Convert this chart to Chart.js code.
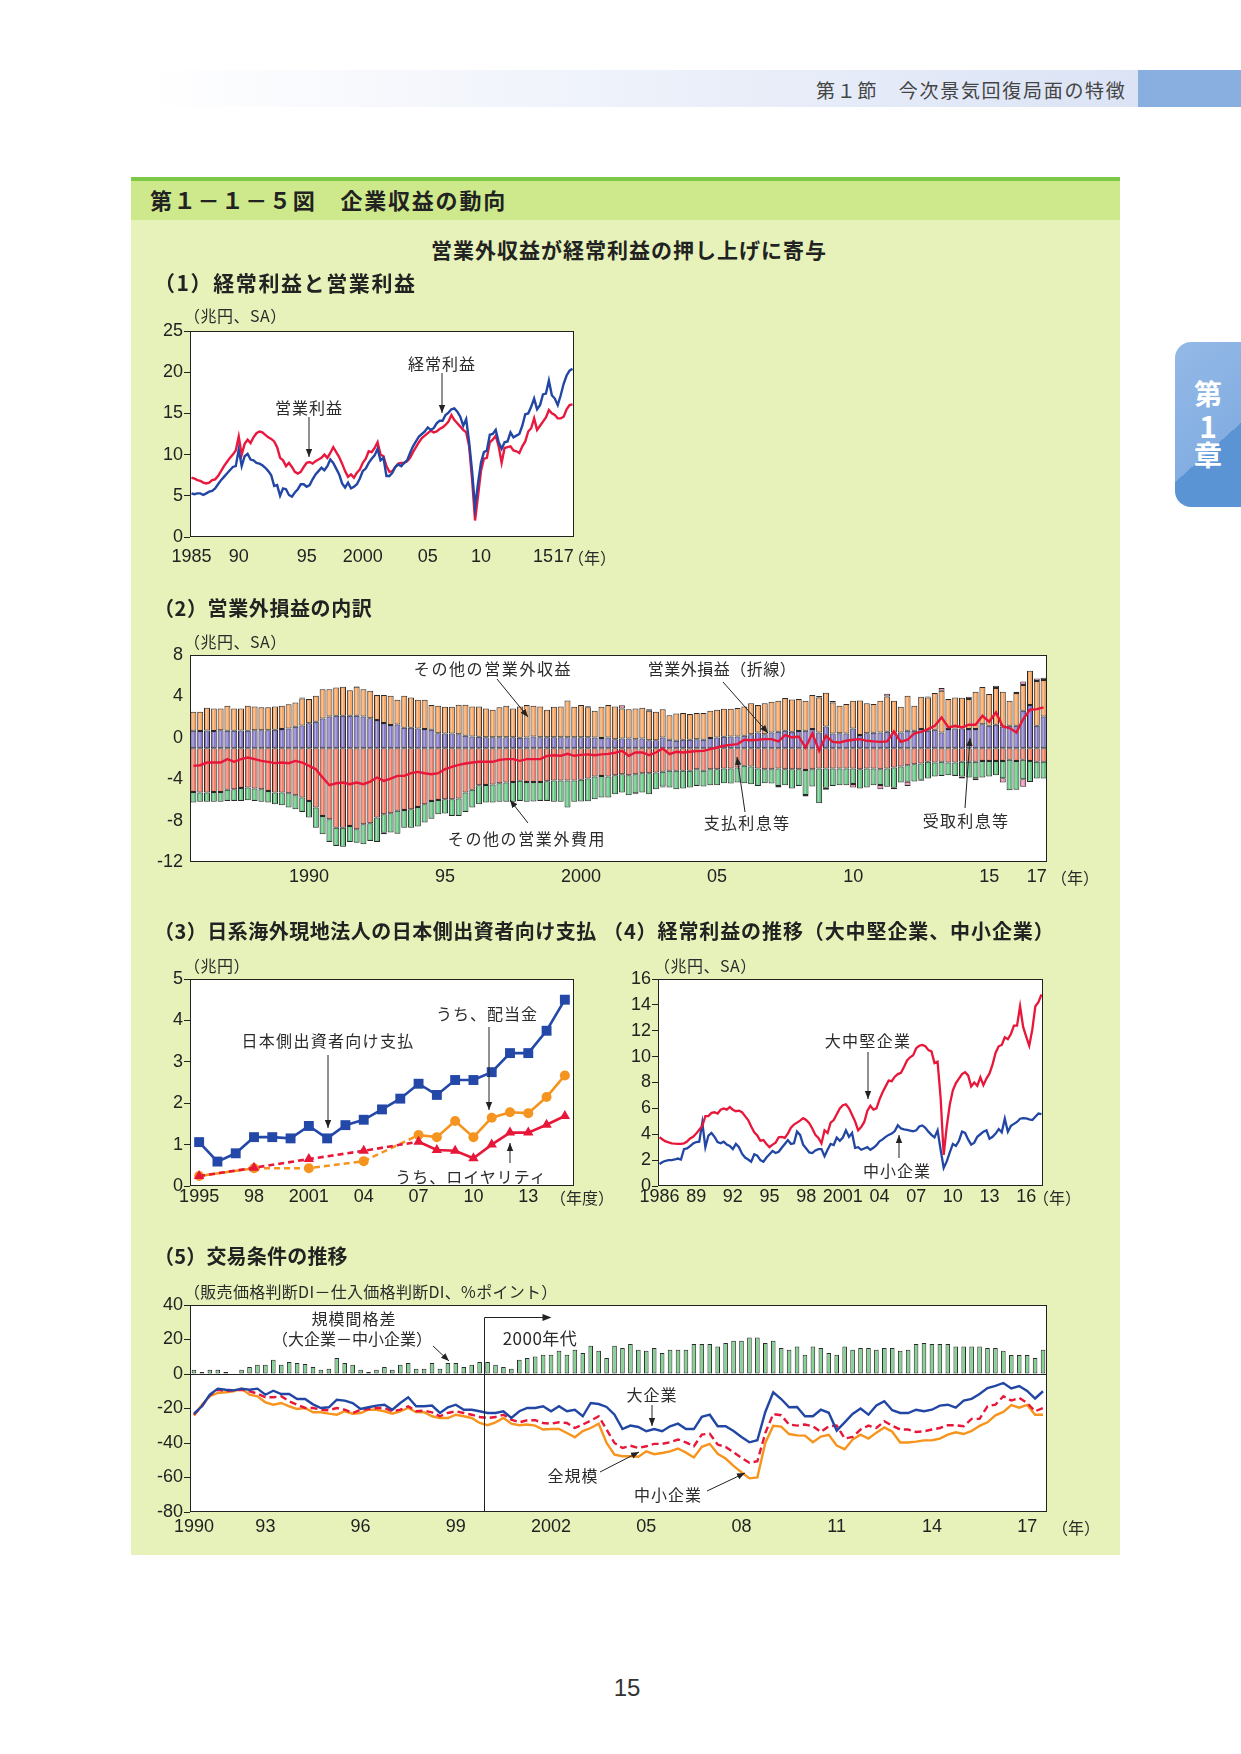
<!DOCTYPE html>
<html lang="ja"><head><meta charset="utf-8">
<script src="https://cdn.jsdelivr.net/npm/chart.js@4.4.0/dist/chart.umd.min.js"></script>
<style>
html,body{margin:0;padding:0;background:#fff;}
#page{position:relative;width:1241px;height:1754px;overflow:hidden;font-family:'Noto Sans CJK JP',sans-serif;color:#333;}
.abs{position:absolute;}
.tx{position:absolute;white-space:nowrap;line-height:1;z-index:2;color:#2b2b2b;}
canvas{position:absolute;z-index:1;}
svg{position:absolute;left:0;top:0;z-index:3;}
</style></head>
<body><div id="page">
<div class="abs" style="left:141px;top:70px;width:997px;height:37px;background:linear-gradient(to right,#ffffff,#dbe3f5);"></div>
<div class="abs" style="left:1138px;top:70px;width:103px;height:37px;background:#88afe0;"></div>
<div class="abs" style="left:1175px;top:342px;width:66px;height:165px;border-radius:16px 0 0 16px;background:linear-gradient(138deg,#93b9e6 0%,#84aee2 62.5%,#5a94d5 62.5%,#5a94d5 100%);"></div>
<div class="abs" style="left:131px;top:177px;width:989px;height:1378px;background:#e6f2b9;"></div>
<div class="abs" style="left:131px;top:177px;width:989px;height:4px;background:#7dc847;"></div>
<div class="abs" style="left:131px;top:181px;width:989px;height:39px;background:#cee98b;"></div>
<svg width="1241" height="1754">
<defs><marker id="ah" viewBox="0 0 10 10" refX="10" refY="5" markerWidth="8" markerHeight="8" markerUnits="userSpaceOnUse" orient="auto"><path d="M0,1 L10,5 L0,9 z" fill="#222"/></marker></defs>
<g stroke="#222" stroke-width="1" fill="none" marker-end="url(#ah)">
<line x1="442" y1="373" x2="442" y2="413"/>
<line x1="309" y1="417" x2="309" y2="457"/>
<line x1="497" y1="679" x2="528" y2="717"/>
<line x1="723" y1="682" x2="768" y2="733"/>
<line x1="528" y1="823" x2="510" y2="800"/>
<line x1="745" y1="812" x2="737" y2="757"/>
<line x1="965" y1="808" x2="970" y2="738"/>
<line x1="328" y1="1055" x2="328" y2="1128"/>
<line x1="489" y1="1027" x2="489" y2="1110"/>
<line x1="510" y1="1163" x2="510" y2="1143"/>
<line x1="868" y1="1052" x2="868" y2="1099"/>
<line x1="899" y1="1158" x2="899" y2="1135"/>
<line x1="433" y1="1346" x2="449" y2="1361"/>
<line x1="652" y1="1405" x2="652" y2="1426"/>
<line x1="600" y1="1472" x2="639" y2="1452"/>
<line x1="707" y1="1491" x2="745" y2="1473"/>
</g>
</svg>
</div>
<script>
// ---------------- data ----------------
// (1) 経常利益 / 営業利益, quarterly 1985Q1-2017Q2 (兆円, SA)
const c1Ordinary = [5.3,5.2,5.3,5.3,5.1,5.3,5.5,5.6,5.9,6.4, 6.9,7.3,7.7,8.1,8.5,8.6,10.6,8.6,9.8,10.1, 9.4,9.3,9.0,8.9,8.7,8.4,8.0,7.5,6.2,6.3, 5.0,5.9,5.8,5.1,4.9,5.4,5.8,6.4,6.4,6.1, 6.3,7.0,7.6,8.0,8.4,8.1,8.6,9.4,9.0,8.3, 7.6,6.5,6.0,6.6,5.9,6.1,6.4,7.1,8.0,8.3, 9.0,9.5,9.9,10.7,9.3,9.6,7.4,7.4,7.8,8.5, 8.8,8.6,9.0,9.3,10.2,11.0,11.6,12.2,12.5,12.8, 13.3,13.0,13.2,13.8,14.1,14.1,14.8,15.1,15.5,15.6, 15.2,14.6,13.5,14.3,11.5,8.0,3.6,6.5,9.0,10.3, 10.5,12.4,12.5,13.0,11.5,10.7,11.5,11.6,12.7,12.1, 12.3,12.5,13.5,14.9,15.0,15.8,16.8,15.5,16.0,17.3, 17.4,19.0,17.2,16.8,16.0,17.2,18.6,19.6,20.2,20.4];
const c1Operating = [7.2,7.1,6.9,6.8,6.6,6.5,6.6,6.9,7.0,7.4, 8.0,8.6,9.1,9.6,10.0,10.5,12.2,10.0,11.3,11.8, 11.4,12.1,12.6,12.8,12.7,12.4,12.1,11.9,11.6,10.9, 9.6,9.3,8.6,9.0,8.5,7.9,7.7,7.9,8.5,9.0, 9.1,8.9,9.2,9.4,9.6,10.0,9.6,10.2,10.9,10.3, 9.7,8.9,8.0,7.3,7.6,7.2,7.8,8.2,9.0,9.5, 10.4,10.3,10.8,11.5,10.0,9.8,8.6,7.9,8.0,8.5, 8.9,9.0,9.0,9.2,9.6,10.3,10.9,11.5,12.0,12.3, 12.6,12.9,12.7,12.8,13.1,13.3,13.6,14.0,14.8,14.2, 13.8,13.4,13.0,12.7,11.0,7.0,2.0,5.0,8.0,9.5, 9.6,11.5,11.8,12.3,11.0,9.0,10.8,10.9,11.0,10.5, 10.4,10.2,11.0,11.6,12.8,13.2,14.4,13.0,13.5,14.0, 14.5,15.4,15.0,14.8,14.4,14.4,14.6,15.5,16.0,16.1];
const c1TickIdx = [0,16,39,58,80,98,119,126];
const c1TickText = ['1985','90','95','2000','05','10','15','17'];

// (2) 営業外損益の内訳, quarterly 1985Q4-2017Q1 (兆円, SA)
const c2InterestReceived = [1.68,1.65,1.70,1.65,1.72,1.68,1.68,1.70,1.68,1.74, 1.74,1.74,1.77,1.84,1.90,2.06,2.20,2.40,2.55,2.87, 3.06,3.13,3.13,3.13,3.13,3.06,2.90,2.71,2.42,2.23, 2.29,1.97,1.97,1.90,1.84,1.77,1.45,1.42,1.42,1.35, 1.19,1.13,1.10,1.06,1.06,1.06,1.06,1.06,1.00,1.03, 1.13,1.06,1.06,1.06,1.06,1.06,1.06,1.06,1.06,1.03, 0.97,1.03,0.87,0.94,0.94,0.87,0.94,0.77,0.77,1.03, 0.81,0.71,0.81,0.81,0.87,0.81,0.97,1.03,1.10,1.13, 1.13,1.19,1.35,1.52,1.35,1.52,1.58,1.68,1.58,1.65, 1.68,1.84,1.52,2.10,1.42,1.45,1.42,1.90,1.26,1.45, 1.48,1.52,1.58,1.52,1.52,1.68,1.68,1.84,1.68,1.77, 1.52,1.84,1.90,1.90,1.84,1.84,2.32,2.16,2.26,2.10, 2.16,2.16,3.61,4.16,2.16,3.06];
const c2OtherIncome = [1.84,1.87,2.20,2.19,2.12,2.42,2.16,2.14,2.42,2.29, 2.20,2.20,2.26,2.26,2.33,2.36,2.60,2.34,2.51,2.83, 2.64,2.74,2.81,2.47,2.81,2.64,2.65,2.42,2.71,2.83, 2.39,3.09,2.93,2.78,2.84,2.39,2.65,2.58,2.58,2.84, 3.00,2.90,2.93,2.78,2.65,2.88,3.04,2.78,3.03,3.13, 2.97,2.97,2.65,2.94,2.97,3.54,2.94,3.10,2.88,2.58, 3.03,3.13,3.16,2.90,2.83,2.97,2.96,2.84,2.75,2.74, 2.38,2.64,2.58,2.48,2.52,2.58,2.64,2.68,2.71,2.68, 2.74,2.84,3.00,2.64,3.00,2.96,3.00,3.16,3.13,3.09, 2.90,3.29,3.38,3.25,3.00,2.65,2.84,2.68,3.35,2.90, 2.78,3.06,3.42,3.06,2.48,3.38,2.42,3.13,3.22,3.55, 4.03,2.90,3.00,2.97,2.90,3.61,3.58,3.07,3.55,3.35, 2.42,3.16,2.49,3.32,4.32,3.52];
const c2OtherPlus = [0,0,0,0,0,0,0,0,0,0, 0,0,0,0,0,0,0.1,0,0,0, 0,0,0,0,0.05,0,0,0,0,0, 0,0,0,0,0,0,0,0,0,0, 0,0,0,0,0,0,0,0,0,0, 0,0,0,0,0,0,0,0,0.1,0, 0,0,0,0.3,0,0,0,0.15,0,0, 0,0,0,0,0,0,0,0,0,0, 0,0,0,0,0,0,0,0,0,0, 0,0,0.15,0,0.13,0,0,0,0,0, 0,0,0.25,0,0,0,0,0,0.1,0, 0.25,0,0,0,0.23,0,0,0,0.23,0, 0,0.13,0.35,0,0.26,0.23];
const c2InterestPaid = [-4.23,-4.29,-4.29,-4.23,-4.23,-4.03,-3.97,-3.84,-3.81,-3.90, -3.97,-4.13,-4.29,-4.29,-4.35,-4.55,-4.77,-5.10,-5.74,-6.55, -6.87,-7.68,-7.68,-7.52,-7.84,-7.35,-7.26,-6.71,-6.39,-6.29, -6.06,-5.97,-5.90,-5.68,-5.42,-5.10,-5.00,-4.94,-4.94,-4.87, -4.29,-4.03,-3.58,-3.55,-3.52,-3.39,-3.32,-3.26,-3.16,-3.26, -3.26,-3.26,-3.19,-3.13,-3.13,-3.13,-3.13,-3.06,-2.94,-2.74, -2.68,-2.74,-2.61,-2.52,-2.61,-2.52,-2.42,-2.42,-2.35,-2.29, -2.19,-2.19,-2.19,-2.19,-2.03,-2.19,-2.03,-2.03,-1.97,-1.97, -1.87,-1.71,-1.77,-1.97,-2.03,-2.03,-1.97,-2.03,-2.03,-2.03, -2.10,-2.03,-1.97,-1.97,-1.97,-1.97,-1.97,-1.97,-2.03,-1.97, -1.97,-2.03,-1.97,-1.87,-1.77,-1.65,-1.55,-1.48,-1.32,-1.39, -1.32,-1.39,-1.39,-1.32,-1.32,-1.32,-1.23,-1.23,-1.23,-1.23, -1.13,-1.23,-1.13,-1.23,-1.32,-1.32];
const c2OtherExpense = [-1.03,-0.90,-0.90,-0.96,-0.96,-1.07,-1.13,-1.26,-1.22,-1.20, -1.22,-1.13,-1.13,-1.23,-1.39,-1.35,-1.39,-1.61,-1.94,-1.77, -2.19,-1.77,-1.84,-1.54,-1.29,-1.94,-1.71,-2.35,-1.78,-1.87, -2.20,-1.71,-1.78,-1.90,-1.77,-1.71,-1.39,-1.38,-1.61,-1.68, -1.87,-1.71,-1.84,-1.71,-1.74,-1.80,-1.87,-1.93,-1.94,-1.93, -1.90,-1.84,-1.91,-2.06,-2.06,-2.61,-2.06,-2.10,-2.19,-2.20, -2.09,-2.03,-1.84,-1.77,-1.94,-1.83,-1.87,-2.03,-1.62,-1.42, -1.62,-1.78,-1.71,-1.62,-1.62,-1.52,-1.55,-1.55,-1.42,-1.45, -1.45,-1.68,-1.71,-1.68,-1.36,-1.39,-1.69,-1.55,-1.87,-1.62, -2.43,-1.68,-3.35,-1.86,-1.68,-1.61,-1.61,-1.49,-1.87,-1.84, -1.61,-1.54,-1.77,-1.95,-1.55,-1.60,-1.68,-1.58,-1.62,-1.35, -1.36,-1.22,-1.29,-1.42,-1.52,-1.58,-1.61,-1.51,-1.38,-1.67, -2.93,-2.80,-1.87,-2.03,-1.62,-1.62];
const c2OtherMinus = [0,0,0,0,0,0,0,0,0,0, 0,0,0,0,0,0,0,0,0,0, 0,0,0,0,0,0,0,0,-0.15,0, 0,0,0,0,0,0,0,0,0,0, 0,0,0,0,0,0,0,0,0,0, 0,0,0,0,0,0,0,0,0,0, 0,0,0,0,0,-0.1,0,0,0,-0.1, 0,0,0,0,0,0,0,0,0,0, 0,0,0,0,0,0,-0.15,0,0,0, -0.15,0,0,-0.2,0,0,0,-0.35,0,0, 0,-0.4,0,-0.15,0,-0.4,0,-0.1,0,0, 0,0,0,-0.2,0,-0.2,0,0,0,-0.42, 0,0,-0.74,0,0,0];
const c2Net = [-1.71,-1.65,-1.39,-1.39,-1.39,-1.06,-1.32,-1.06,-0.90,-1.06, -1.23,-1.32,-1.45,-1.39,-1.45,-1.23,-1.39,-1.71,-2.03,-2.84, -3.58,-3.39,-3.32,-3.48,-3.32,-3.48,-3.23,-2.84,-3.16,-2.94, -2.68,-2.68,-2.42,-2.29,-2.42,-2.52,-2.42,-2.03,-1.81,-1.61, -1.48,-1.39,-1.32,-1.32,-1.32,-1.13,-1.06,-1.06,-1.23,-1.06, -1.06,-1.06,-0.74,-0.68,-0.74,-0.55,-0.74,-0.65,-0.60,-0.68, -0.60,-0.55,-0.45,-0.26,-0.74,-0.42,-0.42,-0.68,-0.42,-0.03, -0.58,-0.35,-0.42,-0.35,-0.29,-0.26,-0.10,0.06,0.23,0.32, 0.39,0.81,0.77,0.81,0.87,0.87,0.65,1.26,1.03,1.13, 0.06,1.42,-0.26,1.19,0.61,0.55,0.71,0.81,0.87,0.71, 0.65,0.61,0.65,1.61,0.61,0.81,1.42,1.58,1.84,2.16, 2.97,2.00,2.16,2.00,2.26,2.26,3.13,2.55,3.45,2.10, 1.94,1.52,2.81,3.71,3.77,3.94];
const c2TickIdx = [17,37,57,77,97,117,124];
const c2TickText = ['1990','95','2000','05','10','15','17'];
const c2YLabels = [8,4,0,-4,-8,-12];
const c2AxisShift = 1.0; // in the original the bars' zero line sits one unit below the "0" label

// (3) 日系海外現地法人の日本側出資者向け支払 (兆円, 年度)
const c3Years = [1995,1996,1997,1998,1999,2000,2001,2002,2003,2004,2005,2006,2007,2008,2009,2010,2011,2012,2013,2014,2015];
const c3Total = [1.06,0.59,0.79,1.18,1.18,1.15,1.45,1.15,1.47,1.60,1.85,2.11,2.47,2.20,2.56,2.56,2.75,3.21,3.21,3.75,4.50];
const c3Dividend = [0.24,null,null,0.43,null,null,0.43,null,null,0.60,null,null,1.23,1.18,1.57,1.18,1.65,1.78,1.76,2.15,2.67];
const c3Royalty = [0.24,null,null,0.44,null,null,0.65,null,null,0.85,null,null,1.07,0.87,0.85,0.67,1.00,1.29,1.29,1.48,1.69];
const c3TickYears = [1995,1998,2001,2004,2007,2010,2013];
const c3TickText = ['1995','98','2001','04','07','10','13'];

// (4) 経常利益の推移, quarterly 1986Q1-2017Q2 (兆円, SA)
const c4Large = [3.77,3.6,3.45,3.37,3.3,3.27,3.25,3.26,3.3,3.43, 3.68,3.8,4.05,4.35,4.65,5.4,5.4,5.65,5.7,5.6, 5.9,6.0,5.9,6.1,5.9,5.78,5.82,5.7,5.4,5.1, 4.6,4.15,3.9,3.5,3.55,3.25,3.0,3.2,3.35,3.77, 3.8,3.72,4.05,4.5,4.75,4.9,5.05,5.24,5.1,4.85, 4.45,3.95,3.72,3.3,4.3,4.1,4.9,5.1,5.55,6.0, 6.25,6.32,6.0,5.5,5.0,4.3,4.55,4.95,5.8,6.2, 5.9,6.0,6.7,7.25,7.7,8.15,8.1,8.45,8.65,8.75, 9.2,9.7,9.95,10.1,10.65,10.84,10.9,10.8,10.5,10.4, 9.5,9.6,6.8,2.4,4.6,6.3,7.4,7.95,8.3,8.65, 8.8,8.55,7.7,8.0,7.75,8.4,7.8,8.3,8.7,9.4, 10.3,10.8,10.9,11.5,11.35,11.75,12.4,12.4,13.9,12.3, 11.55,10.85,12.1,13.9,14.2,14.8];
const c4Small = [1.7,1.85,1.95,2.0,2.0,2.05,2.12,2.05,2.84,2.9, 3.08,3.28,3.4,3.43,4.9,3.0,3.9,4.1,3.8,3.4, 3.3,3.43,3.2,3.1,2.85,3.25,3.0,2.5,2.2,2.05, 1.88,2.45,2.35,2.0,1.88,2.2,2.45,2.7,2.55,2.65, 2.95,3.25,3.55,3.25,3.3,4.2,3.95,3.2,2.9,2.6, 2.55,2.75,2.85,2.85,2.3,2.8,3.25,3.17,3.75,3.5, 3.75,4.3,3.8,4.1,2.95,3.0,2.8,2.9,3.0,2.8, 2.95,3.15,3.45,3.6,3.8,3.95,4.05,4.25,4.7,4.45, 4.38,4.33,4.28,4.22,4.3,4.6,4.68,4.5,4.2,3.95, 3.75,4.3,2.8,1.4,1.9,2.6,3.25,3.1,3.5,4.2, 4.1,3.6,3.2,3.35,3.8,4.0,4.2,4.3,3.65,3.8, 4.05,4.4,4.15,5.2,4.2,4.65,4.8,4.95,5.2,5.24, 5.22,5.15,5.1,5.35,5.6,5.55];
const c4TickIdx = [0,12,24,36,48,60,72,84,96,108,120];
const c4TickText = ['1986','89','92','95','98','2001','04','07','10','13','16'];

// (5) 交易条件の推移, quarterly 1990Q4-2017Q3 (%ポイント)
const c5Gap = [2.5,1.2,2.5,2.5,1.2,0,2.5,4.05,5.4,5.4, 8.3,5.4,7,6.4,5.8,4.05,2.5,3.1,9.3,6.4, 5.4,2.5,1.2,2.5,4.05,2.5,5.4,6.4,3.1,3.1, 6.4,3.1,6.4,6.4,4.05,5.4,7,7,5.4,4.05, 3.1,8.3,9.3,10.2,11.2,11.2,13.5,11.2,14.1,12.2, 16.4,13.5,9.3,16.4,15.1, 17.4,14.1,13.5,15.1,12.2,14.1,14.1,14.1,17.4,17.4, 17.4,16,18,19.3,19.3,21.2,21.2,18,19.3,15.1, 14.1,16,11.2,16,15.1,12.2,11.2,16,14.1,15.1, 15.1,14.1,15.1,15.1,13.5,14.1,17.4,18,17.4,17.4, 17.4,16,16,16,16,15.1,15.1,13.5,11,11, 11,9.3,14.1];
const c5Large = [-23,-18.7,-12,-8.5,-9.1,-9.5,-8.5,-9.1,-8.5,-12, -9.7,-11.6,-11.6,-14.5,-14.5,-17.6,-19.7,-19.3,-14.9,-15.4, -16.8,-20.3,-19.3,-18.3,-17.8,-20.7,-16.8,-13.5,-18.7,-18.7, -18.3,-22.6,-19.3,-17.8,-20.7,-20.7,-21.6,-22.6,-22.6,-21.6, -25.5,-21.6,-19.7,-19.7,-18.7,-21.6,-18.7,-21.6,-20.7,-24.5, -16.8,-17.4,-19.1,-23.6,-31.9, -29.9,-30.7,-33.2,-31.9,-33.2,-30.3,-28.8,-31.9,-31.9,-24.8, -23.6,-30.3,-30.3,-33,-36.5,-39.6,-38.4,-22,-10.6,-14.5, -19.3,-19.1,-24.5,-24.5,-20.7,-22.5,-32.8,-28,-23.2,-20, -23.6,-18.2,-15.8,-21,-22.6,-22.6,-20.7,-21.6,-20.7,-18.3, -17.8,-19.5,-15.4,-14.4,-11.6,-8.2,-6.9,-5.2,-8.4,-7, -9.8,-14.2,-10];
const c5Small = [-24.1,-17.8,-12.9,-11,-10.6,-10,-8.5,-12,-12.9,-16.4, -17.8,-16.8,-18.7,-20.3,-19.7,-22.2,-22.2,-23,-23.6,-21.6, -23,-22.6,-20.7,-20.7,-21.6,-23,-21.6,-19.7,-22,-22.2, -24.5,-25.5,-25.5,-23.6,-24.5,-25.5,-28.4,-29.7,-28,-25.5, -28.8,-29.7,-29.3,-29.9,-32.2,-31.9,-31.9,-34.2,-36.7,-33.1, -31.3,-28.8,-40,-46.7,-47.7, -47.7,-48,-44.8,-46.5,-45.8,-44.9,-43.2,-45.6,-48.4,-42.2, -40.5,-46.3,-49,-53.3,-57,-60.5,-60,-40,-30,-30.5, -34.8,-35.6,-35.7,-39.5,-36.3,-35.3,-41.5,-43.6,-38,-35.2, -37.4,-34,-31,-33.5,-39.7,-39.7,-39.2,-38.5,-38.4,-37.5, -35.2,-33.8,-34.8,-33,-30.1,-28,-24,-22,-18,-19.5, -17.9,-23.6,-23.6];
const c5All = [-23.6,-18.7,-12.4,-9.1,-10,-9.5,-9.1,-10,-11.4,-13.5, -13.5,-12.9,-15.8,-17.8,-19.7,-19.7,-20.7,-21,-19.7,-20.7, -22.6,-20.7,-20.3,-19.7,-19.7,-21.6,-20.7,-18.7,-21.6,-21.2, -22.2,-24.5,-22.6,-21.6,-22.6,-23.6,-24.9,-25.5,-24.9,-23.6, -26.4,-28,-26.8,-26.8,-28.4,-28.8,-28,-28.4,-31.3,-29.3, -27,-24.5,-32.2,-40,-42.9, -41.6,-42.9,-41.9,-40.5,-40.5,-39.6,-38,-39.6,-41.9,-35.1, -34.6,-40.9,-42.3,-45.4,-48.6,-51.5,-50.6,-34.2,-23.2,-23.9, -29.3,-29.9,-29.3,-30.3,-33.6,-30.3,-29.9,-37.4,-36.5,-32.2, -29.9,-31.3,-27.4,-30,-32.2,-32.2,-33.6,-33.2,-32.2,-31.3, -29.7,-29.7,-30.3,-26,-26,-18.7,-17.8,-12.9,-15.4,-13.9, -16.8,-21.6,-19.7];
const c5TickIdx = [0,9,21,33,45,57,69,81,93,105];
const c5TickText = ['1990','93','96','99','2002','05','08','11','14','17'];
const c5DividerIndex = 37; // 2000Q1
const c5DividerTop = 33;

// ---------------- helpers ----------------
function quarters(y0, q0, n){ const out=[]; let y=y0,q=q0; for(let i=0;i<n;i++){ out.push(y+'Q'+q); q++; if(q>4){q=1;y++;} } return out; }
const FAM = "'Liberation Sans', Arial, sans-serif";
const tickFont = {family: FAM, size: 18};
Chart.defaults.font.family = FAM;
Chart.defaults.color = '#222';
const page = document.getElementById('page');

function mkCanvas(L, T, R, B){
  const c = document.createElement('canvas');
  c.width = R-L+100; c.height = B-T+75;
  c.style.left = (L-60)+'px'; c.style.top = (T-40)+'px';
  c.style.width = c.width+'px'; c.style.height = c.height+'px';
  page.appendChild(c);
  return c;
}
function txt(s, x, y, opt={}){
  const d = document.createElement('div');
  d.className = 'tx';
  d.textContent = s;
  d.style.left = x+'px'; d.style.top = y+'px';
  d.style.fontSize = (opt.size||16)+'px';
  d.style.letterSpacing = (opt.ls===undefined?1:opt.ls)+'px';
  d.style.transform = opt.left ? 'translate(0,-50%)' : 'translate(-50%,-50%)';
  if (opt.bold) d.style.fontWeight = 'bold';
  if (opt.color) d.style.color = opt.color;
  if (opt.font) d.style.fontFamily = opt.font;
  page.appendChild(d);
}
const framePlugin = {
  id:'frame',
  beforeDraw(ch){ const {ctx, chartArea:a} = ch; ctx.save(); ctx.fillStyle='#fff'; ctx.fillRect(a.left,a.top,a.right-a.left,a.bottom-a.top); ctx.restore(); },
  afterDraw(ch){ const {ctx, chartArea:a} = ch; ctx.save(); ctx.strokeStyle='#222'; ctx.lineWidth=1; ctx.strokeRect(Math.round(a.left)+0.5,Math.round(a.top)+0.5,Math.round(a.right-a.left)-1,Math.round(a.bottom-a.top)-1); ctx.restore(); }
};
// light vertical highlight inside each bar segment (as in the printed chart)
const stripePlugin = {
  id:'stripe',
  afterDatasetDraw(ch, args){
    const meta = args.meta;
    if (meta.type !== 'bar') return;
    const ctx = ch.ctx;
    ctx.save();
    ctx.fillStyle = 'rgba(255,255,255,0.42)';
    meta.data.forEach(el => {
      if (el.skip || el.y == null || isNaN(el.y)) return;
      const top = Math.min(el.y, el.base) + 1.5, bot = Math.max(el.y, el.base) - 1.5;
      if (bot - top < 1) return;
      ctx.fillRect(el.x - el.width*0.18, top, Math.max(1.3, el.width*0.22), bot - top);
    });
    ctx.restore();
  }
};
function yAx(min, max, step, o={}){
  const ax = {
    min, max,
    ticks:{stepSize:step, font:tickFont, color:'#222', padding:(o.pad===undefined?1:o.pad)},
    grid:{display:o.marks!==false, drawOnChartArea:false, drawTicks:o.marks!==false, tickLength:6, color:'#222', lineWidth:1},
    border:{display:false},
    afterFit:s=>{ s.width = 60; }
  };
  if (o.stacked) ax.stacked = true;
  if (o.abt) ax.afterBuildTicks = o.abt;
  if (o.cb) ax.ticks.callback = o.cb;
  return ax;
}
function xCat(idx, text, pad, stacked){
  return {
    type:'category', offset:true, stacked:!!stacked,
    grid:{display:false, drawTicks:false}, border:{display:false},
    ticks:{autoSkip:false, maxRotation:0, minRotation:0, font:tickFont, color:'#222', padding:pad,
      callback:(v,i)=>{ const k = idx.indexOf(i); return k>=0 ? text[k] : ''; }},
    afterFit:s=>{ s.height = 35; }
  };
}
function opts(scales){
  return {responsive:false, animation:false, devicePixelRatio:1,
    layout:{padding:{top:40,right:40,left:0,bottom:0}},
    plugins:{legend:{display:false}, tooltip:{enabled:false}},
    scales};
}
const nz = a => a.map(v => v===0 ? null : v);

// ---------------- chart 1 ----------------
new Chart(mkCanvas(190,331,574,537), {
  type:'line',
  data:{labels:quarters(1985,1,c1Ordinary.length), datasets:[
    {data:c1Ordinary, borderColor:'#2146a4', borderWidth:2.4, pointRadius:0, tension:0},
    {data:c1Operating, borderColor:'#e8183e', borderWidth:2.4, pointRadius:0, tension:0}
  ]},
  options:opts({x:xCat(c1TickIdx,c1TickText,9), y:yAx(0,25,5)}),
  plugins:[framePlugin]
});

// ---------------- chart 2 ----------------
const barCommon = {borderColor:'#2a2a2a', borderWidth:1, borderSkipped:false, categoryPercentage:1, barPercentage:0.88, stack:'s', order:1};
new Chart(mkCanvas(190,655,1047,862), {
  type:'bar',
  data:{labels:quarters(1985,4,c2Net.length), datasets:[
    Object.assign({label:'受取利息等', data:c2InterestReceived, backgroundColor:'#8174c8'}, barCommon),
    Object.assign({label:'その他の営業外収益', data:c2OtherIncome, backgroundColor:'#f8a15a'}, barCommon),
    Object.assign({label:'その他', data:nz(c2OtherPlus), backgroundColor:'#f48db3'}, barCommon),
    Object.assign({label:'支払利息等', data:c2InterestPaid, backgroundColor:'#f4785f'}, barCommon),
    Object.assign({label:'その他の営業外費用', data:c2OtherExpense, backgroundColor:'#5fc47e'}, barCommon),
    Object.assign({label:'その他', data:nz(c2OtherMinus), backgroundColor:'#f48db3'}, barCommon),
    {type:'line', label:'営業外損益', data:c2Net, borderColor:'#e8173a', borderWidth:2.4, pointRadius:0, tension:0, stack:'net', order:0}
  ]},
  options:opts({
    x:xCat(c2TickIdx,c2TickText,4,true),
    y:yAx(c2YLabels[c2YLabels.length-1]+c2AxisShift, c2YLabels[0]+c2AxisShift, 4, {
      marks:false, pad:7, stacked:true,
      abt:s=>{ s.ticks = c2YLabels.map(v=>({value:v+c2AxisShift})); },
      cb:v=>String(Math.round(v - c2AxisShift))
    })
  }),
  plugins:[framePlugin, stripePlugin]
});

// ---------------- chart 3 ----------------
const pts = arr => c3Years.map((y,i)=>({x:y, y:arr[i]}));
new Chart(mkCanvas(190,979,574,1186), {
  type:'line',
  data:{datasets:[
    {label:'日本側出資者向け支払', data:pts(c3Total), borderColor:'#2348a8', backgroundColor:'#2348a8', borderWidth:2.6, pointStyle:'rect', pointRadius:7, pointBorderWidth:0, tension:0, order:3},
    {label:'うち、配当金', data:pts(c3Dividend), borderColor:'#f5941f', backgroundColor:'#f5941f', borderWidth:2.6, pointStyle:'circle', pointRadius:5, pointBorderWidth:0, tension:0, spanGaps:true, order:2,
      segment:{borderDash:c=> (c.p0.parsed.x>=1998 && c.p1.parsed.x<=2007) ? [6,4] : undefined}},
    {label:'うち、ロイヤリティ', data:pts(c3Royalty), borderColor:'#e8173a', backgroundColor:'#e8173a', borderWidth:2.6, pointStyle:'triangle', pointRadius:6, pointBorderWidth:0, tension:0, spanGaps:true, order:1,
      segment:{borderDash:c=> (c.p1.parsed.x<=2007) ? [6,4] : undefined}}
  ]},
  options:opts({
    x:{type:'linear', min:1994.5, max:2015.5, grid:{display:false, drawTicks:false}, border:{display:false},
       afterBuildTicks:s=>{ s.ticks = c3TickYears.map(v=>({value:v})); },
       ticks:{font:tickFont, color:'#222', padding:0, maxRotation:0, autoSkip:false, callback:v=>{ const k=c3TickYears.indexOf(v); return k>=0?c3TickText[k]:''; }},
       afterFit:s=>{ s.height = 35; }},
    y:yAx(0,5,1)
  }),
  plugins:[framePlugin]
});

// ---------------- chart 4 ----------------
new Chart(mkCanvas(658,979,1043,1186), {
  type:'line',
  data:{labels:quarters(1986,1,c4Large.length), datasets:[
    {label:'大中堅企業', data:c4Large, borderColor:'#e8173a', borderWidth:2.3, pointRadius:0, tension:0},
    {label:'中小企業', data:c4Small, borderColor:'#2146a4', borderWidth:2.3, pointRadius:0, tension:0}
  ]},
  options:opts({x:xCat(c4TickIdx,c4TickText,0), y:yAx(0,16,2)}),
  plugins:[framePlugin]
});

// ---------------- chart 5 ----------------
const c5Deco = {
  id:'c5deco',
  beforeDatasetsDraw(ch){ const {ctx, chartArea:a, scales:{y}} = ch; const y0 = Math.round(y.getPixelForValue(0))+0.5; ctx.save(); ctx.strokeStyle='#222'; ctx.lineWidth=1.2; ctx.beginPath(); ctx.moveTo(a.left,y0); ctx.lineTo(a.right,y0); ctx.stroke(); ctx.restore(); },
  afterDatasetsDraw(ch){
    const {ctx, chartArea:a, scales:{x,y}} = ch;
    const px = Math.round((x.getPixelForValue(c5DividerIndex)+x.getPixelForValue(c5DividerIndex-1))/2)+0.5;
    const top = Math.round(y.getPixelForValue(c5DividerTop))+0.5;
    ctx.save(); ctx.strokeStyle='#222'; ctx.fillStyle='#222'; ctx.lineWidth=1;
    ctx.beginPath(); ctx.moveTo(px,a.bottom); ctx.lineTo(px,top); ctx.lineTo(px+60,top); ctx.stroke();
    ctx.beginPath(); ctx.moveTo(px+67,top); ctx.lineTo(px+58,top-3.5); ctx.lineTo(px+58,top+3.5); ctx.closePath(); ctx.fill();
    ctx.restore();
  }
};
new Chart(mkCanvas(190,1305,1047,1512), {
  type:'bar',
  data:{labels:quarters(1990,4,c5Gap.length), datasets:[
    {type:'line', label:'大企業', data:c5Large, borderColor:'#2146a4', borderWidth:2.4, pointRadius:0, tension:0, order:1},
    {type:'line', label:'全規模', data:c5All, borderColor:'#e8173a', borderWidth:2.4, borderDash:[7,4], pointRadius:0, tension:0, order:1},
    {type:'line', label:'中小企業', data:c5Small, borderColor:'#f7941d', borderWidth:2.4, pointRadius:0, tension:0, order:1},
    {label:'規模間格差', data:nz(c5Gap), backgroundColor:'#86d295', borderColor:'#2a2a2a', borderWidth:1, borderSkipped:false, categoryPercentage:1, barPercentage:0.58, order:2}
  ]},
  options:opts({x:xCat(c5TickIdx,c5TickText,4), y:yAx(-80,40,20)}),
  plugins:[framePlugin, c5Deco]
});

// ---------------- text ----------------
txt('第１節　今次景気回復局面の特徴', 816, 89, {left:true, size:19, ls:1.7, color:'#444'});
txt('第', 1208, 393, {size:28, bold:true, color:'#fff', ls:0});
txt('1', 1208, 425, {size:30, bold:true, color:'#fff', ls:0});
txt('章', 1208, 454, {size:28, bold:true, color:'#fff', ls:0});
txt('第１－１－５図　企業収益の動向', 150, 199, {left:true, size:22, bold:true, ls:1.8, color:'#222'});
txt('営業外収益が経常利益の押し上げに寄与', 629, 249, {size:21, bold:true, ls:1, color:'#222'});
txt('（1）経常利益と営業利益', 154, 282, {left:true, size:21, bold:true, ls:1.6, color:'#222'});
txt('（2）営業外損益の内訳', 154, 608, {left:true, size:20, bold:true, ls:0.6, color:'#222'});
txt('（3）日系海外現地法人の日本側出資者向け支払', 154, 931, {left:true, size:20, bold:true, ls:0.5, color:'#222'});
txt('（4）経常利益の推移（大中堅企業、中小企業）', 603, 931, {left:true, size:20, bold:true, ls:0.9, color:'#222'});
txt('（5）交易条件の推移', 154, 1256, {left:true, size:20, bold:true, ls:0.2, color:'#222'});
// chart 1
txt('（兆円、SA）', 184, 315, {left:true, size:16, ls:0.5});
txt('経常利益', 442, 363);
txt('営業利益', 309, 407);
txt('（年）', 592, 557, {size:16, ls:0});
// chart 2
txt('（兆円、SA）', 184, 641, {left:true, size:16, ls:0.5});
txt('その他の営業外収益', 493, 668, {ls:1.6});
txt('営業外損益（折線）', 722, 668, {ls:0.5});
txt('その他の営業外費用', 527, 838, {ls:1.6});
txt('支払利息等', 747, 822, {ls:1.3});
txt('受取利息等', 966, 820, {ls:1.3});
txt('（年）', 1075, 877, {size:16, ls:0});
// chart 3
txt('（兆円）', 184, 965, {left:true, size:16, ls:0.5});
txt('日本側出資者向け支払', 328, 1040, {ls:1.3});
txt('うち、配当金', 487, 1013, {ls:1});
txt('うち、ロイヤリティ', 471, 1176, {ls:1});
txt('（年度）', 582, 1197, {size:16, ls:0});
// chart 4
txt('（兆円、SA）', 654, 965, {left:true, size:16, ls:0.5});
txt('大中堅企業', 868, 1040, {ls:1.3});
txt('中小企業', 897, 1170, {ls:1});
txt('（年）', 1057, 1197, {size:16, ls:0});
// chart 5
txt('（販売価格判断DI－仕入価格判断DI、%ポイント）', 184, 1291, {left:true, size:16, ls:0.3});
txt('規模間格差', 354, 1318, {ls:1});
txt('（大企業－中小企業）', 352, 1338, {ls:0});
txt('2000年代', 540, 1337, {size:17, ls:0.5});
txt('大企業', 652, 1394, {ls:1});
txt('全規模', 573, 1475, {ls:1});
txt('中小企業', 668, 1494, {ls:1});
txt('（年）', 1076, 1527, {size:16, ls:0});
// page number
txt('15', 627, 1688, {size:24, ls:0, font:FAM, color:'#333'});
</script>
</body></html>
